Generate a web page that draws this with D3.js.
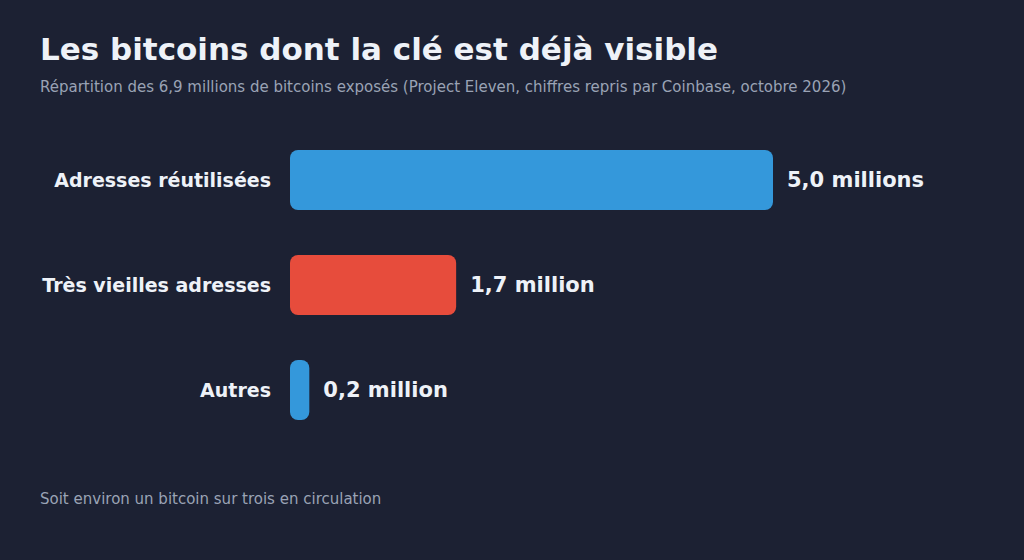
<!DOCTYPE html>
<html>
<head>
<meta charset="utf-8">
<script src="https://cdn.jsdelivr.net/npm/d3@7"></script>
<style>
  html, body { margin: 0; padding: 0; background: #1c2133; }
  svg { display: block; font-family: "DejaVu Sans", sans-serif; }
</style>
</head>
<body>
<div id="chart"></div>
<script>
var width = 1024,
    height = 560;

var categories = ["Adresses réutilisées", "Très vieilles adresses", "Autres"];
var values = [5.0, 1.72, 0.2];
var valueLabels = ["5,0 millions", "1,7 million", "0,2 million"];
var colors = ["#3498db", "#e74c3c", "#3498db"];

var svg = d3.select("#chart").append("svg")
    .attr("width", width)
    .attr("height", height);

svg.append("rect")
    .attr("width", width)
    .attr("height", height)
    .attr("fill", "#1c2133");

svg.append("text")
    .attr("x", 40)
    .attr("y", 60)
    .attr("fill", "#eef2f8")
    .attr("font-size", 31)
    .attr("font-weight", "bold")
    .text("Les bitcoins dont la clé est déjà visible");

svg.append("text")
    .attr("x", 40)
    .attr("y", 92)
    .attr("fill", "#9aa3b5")
    .attr("font-size", 15)
    .text("Répartition des 6,9 millions de bitcoins exposés (Project Eleven, chiffres repris par Coinbase, octobre 2026)");

svg.append("text")
    .attr("x", 40)
    .attr("y", 504)
    .attr("fill", "#9aa3b5")
    .attr("font-size", 15)
    .text("Soit environ un bitcoin sur trois en circulation");

var x = d3.scaleLinear()
    .domain([0, 5])
    .range([290, 773]);

// 60px bars, 105px step
var y = d3.scaleBand()
    .domain(categories)
    .range([150, 420])
    .paddingInner(45 / 105)
    .paddingOuter(0);

var rows = svg.selectAll(".row")
    .data(categories)
    .enter().append("g")
    .attr("class", "row");

rows.append("rect")
    .attr("x", x(0))
    .attr("y", function(d) { return y(d); })
    .attr("width", function(d, i) { return x(values[i]) - x(0); })
    .attr("height", y.bandwidth())
    .attr("rx", function(d, i) { return Math.min(8, (x(values[i]) - x(0)) / 2); })
    .attr("fill", function(d, i) { return colors[i]; });

rows.append("text")
    .attr("x", x(0) - 19)
    .attr("y", function(d) { return y(d) + y.bandwidth() / 2; })
    .attr("dy", "0.35em")
    .attr("text-anchor", "end")
    .attr("fill", "#eef2f8")
    .attr("font-size", 19)
    .attr("font-weight", "bold")
    .text(function(d) { return d; });

rows.append("text")
    .attr("x", function(d, i) { return x(values[i]) + 14; })
    .attr("y", function(d) { return y(d) + y.bandwidth() / 2; })
    .attr("dy", "0.35em")
    .attr("fill", "#eef2f8")
    .attr("font-size", 21)
    .attr("font-weight", "bold")
    .text(function(d, i) { return valueLabels[i]; });
</script>
</body>
</html>
